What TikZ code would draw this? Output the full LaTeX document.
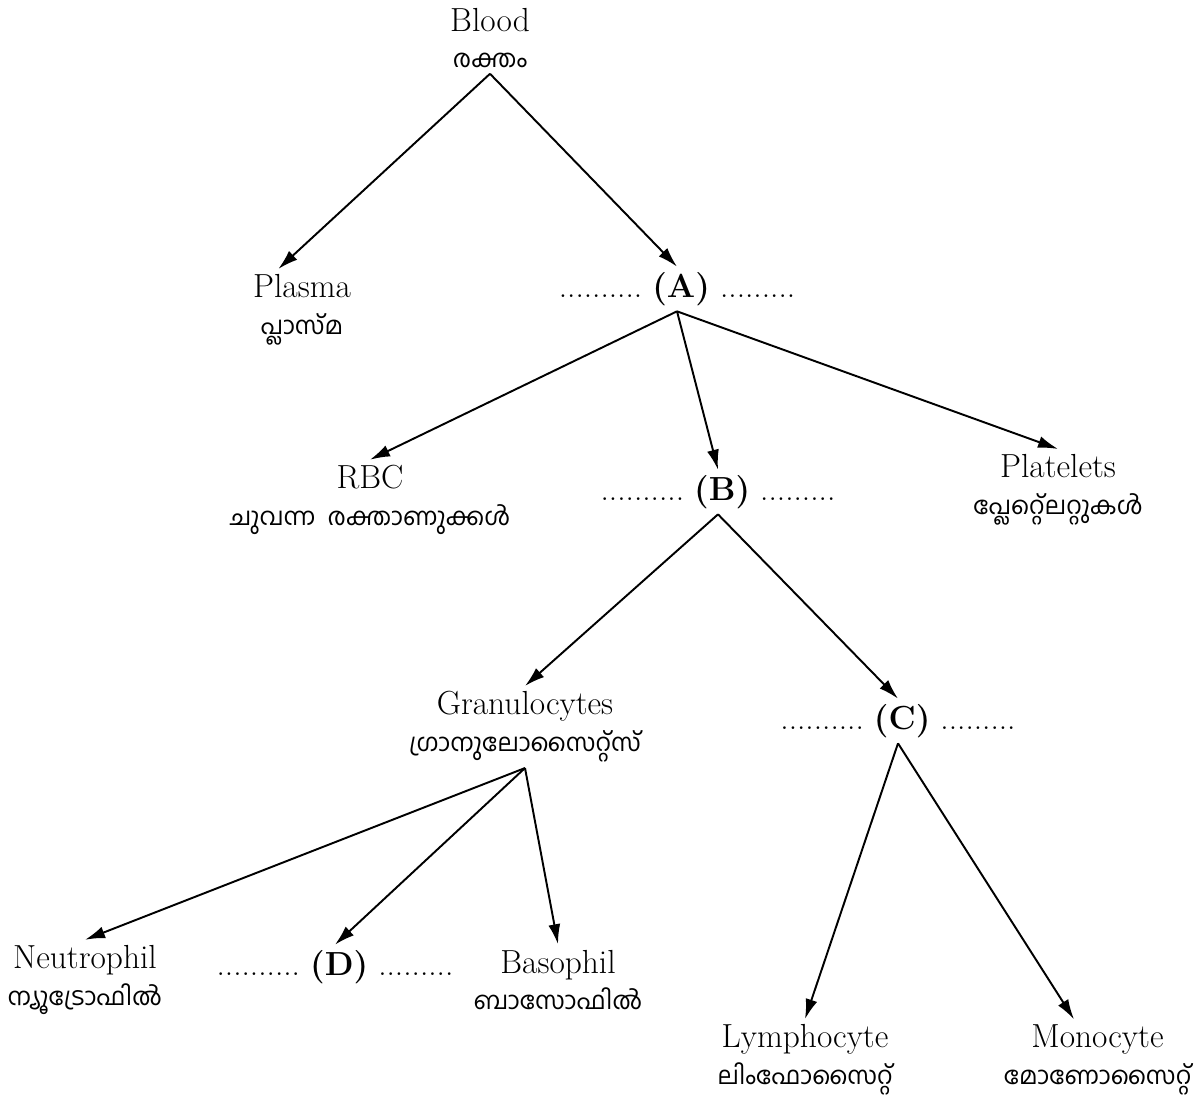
\documentclass[tikz,border=0pt]{standalone}
\usepackage{fontspec}
\newfontfamily\malfont[Script=Malayalam]{Hind Kochi}
\usepackage{tikz}
\usetikzlibrary{arrows.meta,positioning}

\begin{document}
\begin{tikzpicture}[>={Latex[length=4mm,width=2.4mm]},
  cell/.style={align=center, inner sep=3pt, font=\fontsize{19}{21}\selectfont},
  gap/.style={inner sep=3pt, font=\fontsize{19}{21}\selectfont},
  link/.style={->,line width=1.1pt}]
  \useasboundingbox (0,0) rectangle (23.88,-21.98);
  \node[cell] (blood) at (9.8,-0.76) {Blood\\{\malfont\fontsize{14}{21}\selectfont രക്തം}};
  \node[cell] (plasma) at (6.04,-6.2) {Plasma\\{\malfont\fontsize{14}{21}\selectfont പ്ലാസ്മ}};
  \node[gap] (a) at (13.54,-5.78) {..........~\textbf{(A)}~.........};
  \node[cell] (rbc) at (7.4,-10.0) {RBC\\{\malfont\fontsize{14}{21}\selectfont ചുവന്ന\ \ രക്താണുക്കൾ}};
  \node[gap] (b) at (14.36,-9.84) {..........~\textbf{(B)}~.........};
  \node[cell] (platelets) at (21.16,-9.8) {Platelets\\{\malfont\fontsize{14}{21}\selectfont പ്ലേറ്റ്ലെറ്റുകൾ}};
  \node[cell] (gran) at (10.5,-14.54) {Granulocytes\\{\malfont\fontsize{14}{21}\selectfont ഗ്രാനുലോസൈറ്റ്സ്}};
  \node[gap] (c) at (17.96,-14.42) {..........~\textbf{(C)}~.........};
  \node[cell] (neut) at (1.7,-19.6) {Neutrophil\\{\malfont\fontsize{14}{21}\selectfont ന്യൂട്രോഫിൽ}};
  \node[gap] (d) at (6.7,-19.34) {..........~\textbf{(D)}~.........};
  \node[cell] (baso) at (11.16,-19.6) {Basophil\\{\malfont\fontsize{14}{21}\selectfont ബാസോഫിൽ}};
  \node[cell] (lymph) at (16.1,-21.2) {Lymphocyte\\{\malfont\fontsize{14}{21}\selectfont ലിംഫോസൈറ്റ്}};
  \node[cell] (mono) at (21.95,-21.2) {Monocyte\\{\malfont\fontsize{14}{21}\selectfont മോണോസൈറ്റ്}};
  \draw[link] (blood.south) -- (plasma.120);
  \draw[link] (blood.south) -- (a.north);
  \draw[link] (a.south) -- (rbc.north);
  \draw[link] (a.south) -- (b.north);
  \draw[link] (a.south) -- (platelets.north);
  \draw[link] (b.south) -- (gran.north);
  \draw[link] (b.south) -- (c.north);
  \draw[link] (gran.south) -- (neut.north);
  \draw[link] (gran.south) -- (d.north);
  \draw[link] (gran.south) -- (baso.north);
  \draw[link] (c.south) -- (lymph.north);
  \draw[link] (c.south) -- (mono.120);
\end{tikzpicture}
\end{document}
